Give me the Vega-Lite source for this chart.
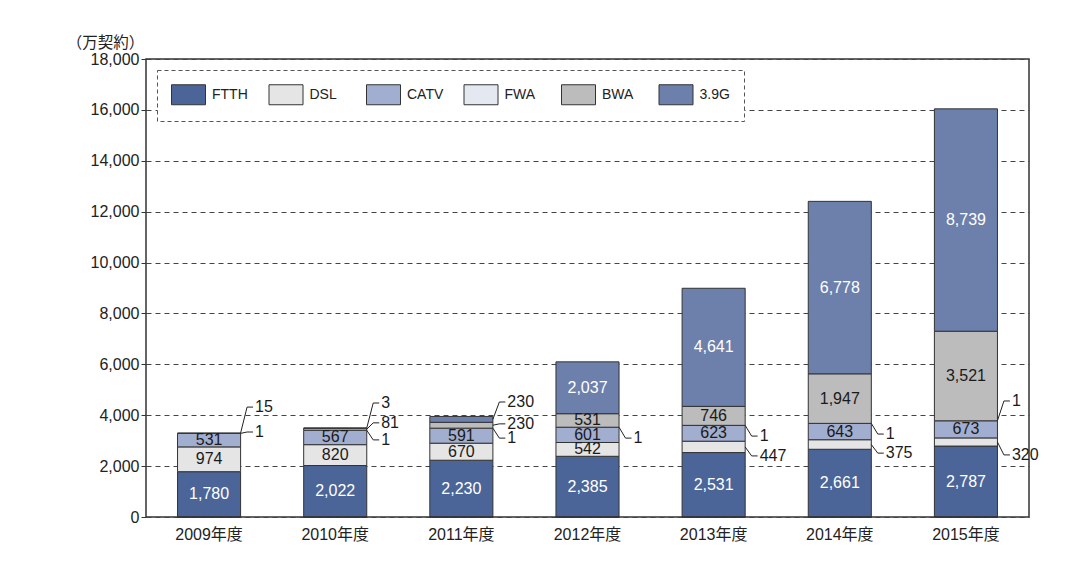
{
  "$schema": "https://vega.github.io/schema/vega-lite/v6.json",
  "width": 883,
  "height": 458,
  "autosize": {"type": "none"},
  "padding": {"left": 146, "top": 59, "right": 63, "bottom": 49},
  "background": "white",
  "config": {
    "font": "Liberation Sans, Noto Sans CJK JP",
    "view": {"stroke": "#333", "strokeWidth": 1.5},
    "axis": {"labelColor": "#222", "titleColor": "#222"}
  },
  "datasets": {
    "bars": [
      {"year": "2009年度", "type": "FTTH", "value": 1780},
      {"year": "2009年度", "type": "DSL", "value": 974},
      {"year": "2009年度", "type": "CATV", "value": 531},
      {"year": "2009年度", "type": "FWA", "value": 1},
      {"year": "2009年度", "type": "BWA", "value": 15},
      {"year": "2010年度", "type": "FTTH", "value": 2022},
      {"year": "2010年度", "type": "DSL", "value": 820},
      {"year": "2010年度", "type": "CATV", "value": 567},
      {"year": "2010年度", "type": "FWA", "value": 1},
      {"year": "2010年度", "type": "BWA", "value": 81},
      {"year": "2010年度", "type": "3.9G", "value": 3},
      {"year": "2011年度", "type": "FTTH", "value": 2230},
      {"year": "2011年度", "type": "DSL", "value": 670},
      {"year": "2011年度", "type": "CATV", "value": 591},
      {"year": "2011年度", "type": "FWA", "value": 1},
      {"year": "2011年度", "type": "BWA", "value": 230},
      {"year": "2011年度", "type": "3.9G", "value": 230},
      {"year": "2012年度", "type": "FTTH", "value": 2385},
      {"year": "2012年度", "type": "DSL", "value": 542},
      {"year": "2012年度", "type": "CATV", "value": 601},
      {"year": "2012年度", "type": "FWA", "value": 1},
      {"year": "2012年度", "type": "BWA", "value": 531},
      {"year": "2012年度", "type": "3.9G", "value": 2037},
      {"year": "2013年度", "type": "FTTH", "value": 2531},
      {"year": "2013年度", "type": "DSL", "value": 447},
      {"year": "2013年度", "type": "CATV", "value": 623},
      {"year": "2013年度", "type": "FWA", "value": 1},
      {"year": "2013年度", "type": "BWA", "value": 746},
      {"year": "2013年度", "type": "3.9G", "value": 4641},
      {"year": "2014年度", "type": "FTTH", "value": 2661},
      {"year": "2014年度", "type": "DSL", "value": 375},
      {"year": "2014年度", "type": "CATV", "value": 643},
      {"year": "2014年度", "type": "FWA", "value": 1},
      {"year": "2014年度", "type": "BWA", "value": 1947},
      {"year": "2014年度", "type": "3.9G", "value": 6778},
      {"year": "2015年度", "type": "FTTH", "value": 2787},
      {"year": "2015年度", "type": "DSL", "value": 320},
      {"year": "2015年度", "type": "CATV", "value": 673},
      {"year": "2015年度", "type": "FWA", "value": 1},
      {"year": "2015年度", "type": "BWA", "value": 3521},
      {"year": "2015年度", "type": "3.9G", "value": 8739}
    ],
    "notes": [
      {"year": "2009年度", "label": "15", "at": 3294, "to": 4320},
      {"year": "2009年度", "label": "1", "at": 3286, "to": 3340},
      {"year": "2010年度", "label": "3", "at": 3492, "to": 4480},
      {"year": "2010年度", "label": "81", "at": 3450, "to": 3700},
      {"year": "2010年度", "label": "1", "at": 3410, "to": 3030},
      {"year": "2011年度", "label": "230", "at": 3837, "to": 4520},
      {"year": "2011年度", "label": "230", "at": 3607, "to": 3660},
      {"year": "2011年度", "label": "1", "at": 3492, "to": 3100},
      {"year": "2012年度", "label": "1", "at": 3529, "to": 3100},
      {"year": "2013年度", "label": "1", "at": 3602, "to": 3180},
      {"year": "2013年度", "label": "447", "at": 2754, "to": 2400},
      {"year": "2014年度", "label": "1", "at": 3680, "to": 3260},
      {"year": "2014年度", "label": "375", "at": 2848, "to": 2510},
      {"year": "2015年度", "label": "1", "at": 3781, "to": 4560},
      {"year": "2015年度", "label": "320", "at": 2947, "to": 2440}
    ]
  },
  "layer": [
    {
      "data": {"name": "bars"},
      "resolve": {"scale": {"color": "independent"}, "legend": {"color": "independent"}},
      "encoding": {
        "x": {
          "field": "year",
          "type": "nominal",
          "scale": {"paddingInner": 0.5, "paddingOuter": 0.25},
          "axis": {"title": null, "labelAngle": 0, "ticks": false, "domain": false, "labelFontSize": 16, "labelPadding": 9}
        },
        "y": {
          "field": "value",
          "type": "quantitative",
          "stack": "zero",
          "scale": {"domain": [0, 18000]},
          "axis": {
            "title": "（万契約）",
            "titleFont": "Noto Sans CJK JP",
            "titleAngle": 0,
            "titleAlign": "center",
            "titleBaseline": "alphabetic",
            "titleX": -41,
            "titleY": -12,
            "titleFontSize": 15.5,
            "titleFontWeight": "normal",
            "values": [0, 2000, 4000, 6000, 8000, 10000, 12000, 14000, 16000, 18000],
            "format": ",d",
            "labelFontSize": 16,
            "labelPadding": 2,
            "tickSize": 5,
            "tickColor": "#333",
            "domain": false,
            "grid": true,
            "gridDash": [5, 4],
            "gridColor": "#444",
            "gridWidth": 1
          }
        }
      },
      "layer": [
        {
          "mark": {"type": "bar", "stroke": "#333", "strokeWidth": 1},
          "encoding": {
            "color": {
              "field": "type",
              "type": "nominal",
              "sort": ["FTTH", "DSL", "CATV", "FWA", "BWA", "3.9G"],
              "scale": {
                "domain": ["FTTH", "DSL", "CATV", "FWA", "BWA", "3.9G"],
                "range": ["#4b6598", "#e5e5e5", "#a2aecf", "#e4e8f1", "#bcbcbc", "#6d80ab"]
              },
              "legend": {
                "title": null,
                "orient": "none",
                "legendX": 11,
                "legendY": 11,
                "direction": "horizontal",
                "columns": 6,
                "gridAlign": "all",
                "columnPadding": 17.5,
                "padding": 14,
                "fillColor": "white",
                "strokeColor": "#555",
                "labelFontSize": 14,
                "labelColor": "#222",
                "labelOffset": 20,
                "symbolType": "M-1,-1H2.4V1H-1Z",
                "symbolSize": 400,
                "symbolStrokeColor": "#333",
                "symbolStrokeWidth": 1,
                "symbolOpacity": 1,
                "encode": {"legend": {"update": {"strokeDash": {"value": [4, 3]}}}}
              }
            }
          }
        },
        {
          "mark": {"type": "text", "baseline": "middle", "fontSize": 16},
          "encoding": {
            "y": {"field": "value", "type": "quantitative", "stack": "zero", "bandPosition": 0.5},
            "color": {
              "field": "type",
              "type": "nominal",
              "sort": ["FTTH", "DSL", "CATV", "FWA", "BWA", "3.9G"],
              "scale": {
                "domain": ["FTTH", "DSL", "CATV", "FWA", "BWA", "3.9G"],
                "range": ["#ffffff", "#1a1a1a", "#1a1a1a", "#1a1a1a", "#1a1a1a", "#ffffff"]
              },
              "legend": null
            },
            "text": {"condition": {"test": "datum.value <= 500", "value": ""}, "field": "value", "type": "quantitative", "format": ","}
          }
        }
      ]
    },
    {
      "data": {"name": "notes"},
      "mark": {"type": "rule", "xOffset": 31.5, "x2Offset": 38, "stroke": "#222", "strokeWidth": 1},
      "encoding": {
        "x": {"field": "year", "type": "nominal"},
        "x2": {"field": "year"},
        "y": {"field": "at", "type": "quantitative"},
        "y2": {"field": "to"}
      }
    },
    {
      "data": {"name": "notes"},
      "mark": {"type": "rule", "xOffset": 38, "x2Offset": 44, "stroke": "#222", "strokeWidth": 1},
      "encoding": {
        "x": {"field": "year", "type": "nominal"},
        "x2": {"field": "year"},
        "y": {"field": "to", "type": "quantitative"}
      }
    },
    {
      "data": {"name": "notes"},
      "mark": {"type": "text", "align": "left", "baseline": "middle", "dx": 46, "fontSize": 16, "fill": "#1a1a1a"},
      "encoding": {
        "x": {"field": "year", "type": "nominal"},
        "y": {"field": "to", "type": "quantitative"},
        "text": {"field": "label"}
      }
    }
  ]
}
